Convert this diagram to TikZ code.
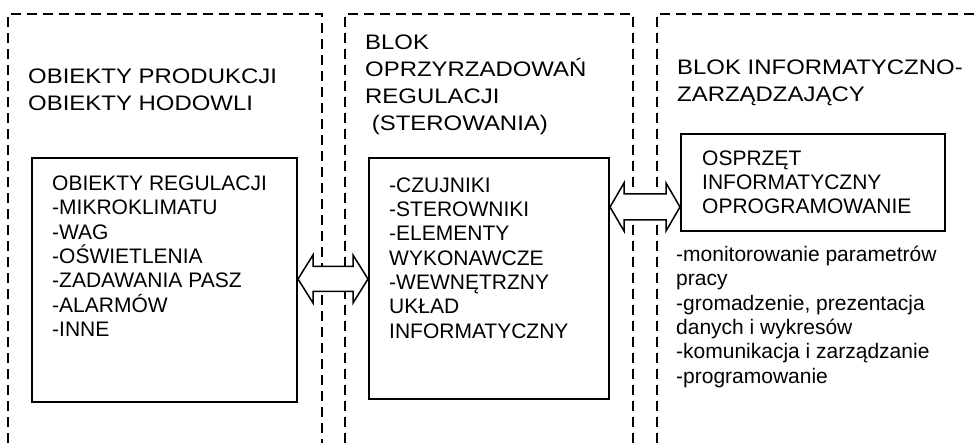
\documentclass[tikz,border=0pt]{standalone}
\usepackage{fontspec}
\setmainfont{Liberation Sans}
\newfontfamily\hdfont[FakeStretch=1.14]{Liberation Sans}
\usetikzlibrary{calc}
\begin{document}
\begin{tikzpicture}[x=1pt,y=1pt,
  region/.style={line width=1.6pt, dash pattern=on 10pt off 6pt},
  sbox/.style={draw, line width=2pt, inner sep=0pt},
  head/.style={anchor=base west, inner sep=0pt, align=left, font=\hdfont\fontsize{21}{27.3}\selectfont},
  body/.style={anchor=base west, inner sep=0pt, align=left, font=\fontsize{21}{24.3}\selectfont},
  barrow/.style={draw, fill=white, line width=1.5pt, line join=miter}
]
\useasboundingbox (0,0) rectangle (979,-443);
% dashed regions
\draw[region] (8,-443) |- (322,-14) -- (322,-443);
\draw[region] (345,-443) |- (633,-14) -- (633,-443);
\draw[region] (657,-443) |- (985,-14);
% solid boxes
\node[sbox, minimum width=265pt, minimum height=244pt] (lbox) at (164.5,-280) {};
\node[sbox, minimum width=240pt, minimum height=241pt] (mbox) at (489,-278.5) {};
\node[sbox, minimum width=264pt, minimum height=97pt] (rbox) at (813,-182.5) {};
% headers (anchored at the baseline of the last line)
\node[head] (lhead) at (28,-111) {OBIEKTY PRODUKCJI\\OBIEKTY HODOWLI};
\node[head] (mhead) at (365,-131) {BLOK\\OPRZYRZADOWAŃ\\REGULACJI\\~(STEROWANIA)};
\node[head] (rhead) at (677,-102) {BLOK INFORMATYCZNO-\\ZARZĄDZAJĄCY};
% box texts
\node[body] (ltext) at (52,-336.5) {OBIEKTY REGULACJI\\-MIKROKLIMATU\\-WAG\\-OŚWIETLENIA\\-ZADAWANIA PASZ\\-ALARMÓW\\-INNE};
\node[body] (mtext) at (389,-338) {-CZUJNIKI\\-STEROWNIKI\\-ELEMENTY\\WYKONAWCZE\\-WEWNĘTRZNY\\UKŁAD\\INFORMATYCZNY};
\node[body] (rtext) at (702,-214) {OSPRZĘT\\INFORMATYCZNY\\OPROGRAMOWANIE};
\node[body] (rlist) at (676,-383) {-monitorowanie parametrów\\pracy\\-gromadzenie, prezentacja\\danych i wykresów\\-komunikacja i zarządzanie\\-programowanie};
% block arrows
\path (lbox.east |- 0,-279) coordinate (a1) (mbox.west |- 0,-279) coordinate (a2);
\draw[barrow] (a1) -- ++(15,24) -- ++(0,-11.5) -- ($(a2)+(-15,12.5)$) -- ++(0,11.5) -- (a2)
  -- ++(-15,-24) -- ++(0,11.5) -- ($(a1)+(15,-12.5)$) -- ++(0,-11.5) -- cycle;
\path (mbox.east |- 0,-207) coordinate (b1) (rbox.west |- 0,-207) coordinate (b2);
\draw[barrow] (b1) -- ++(14,24) -- ++(0,-11) -- ($(b2)+(-14,13)$) -- ++(0,11) -- (b2)
  -- ++(-14,-24) -- ++(0,11) -- ($(b1)+(14,-13)$) -- ++(0,-11) -- cycle;
\end{tikzpicture}
\end{document}
